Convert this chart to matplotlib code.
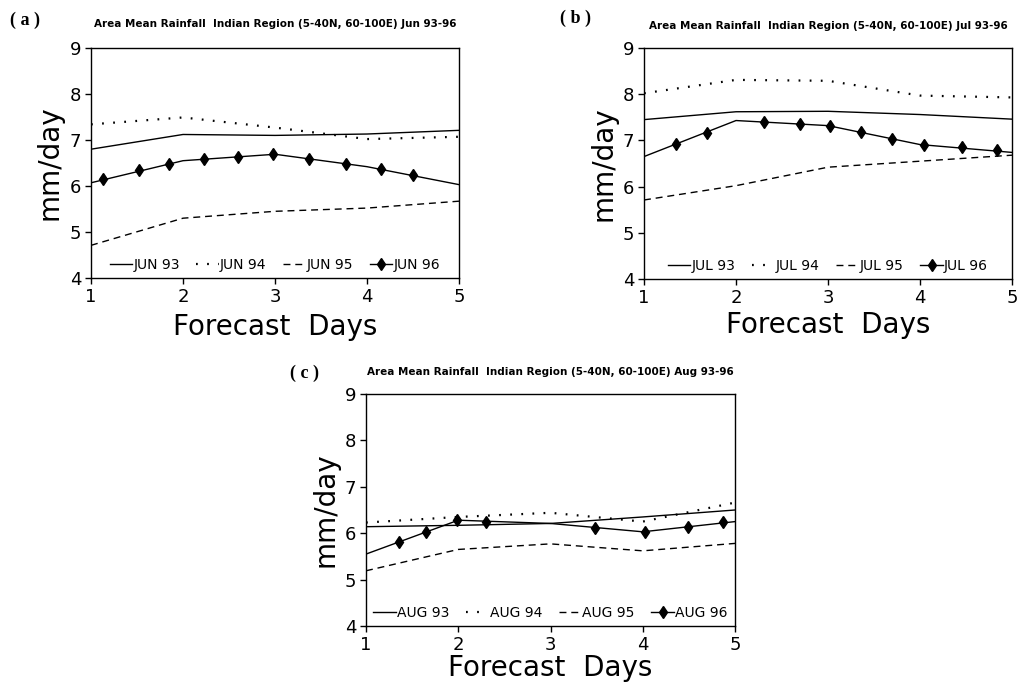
import matplotlib
matplotlib.use("Agg")
import matplotlib.pyplot as plt

# forecast day axis (daily values)
days = [1, 2, 3, 4, 5]

# June 1993-96, mm/day
jun93 = [6.80, 7.12, 7.10, 7.13, 7.21]
jun94 = [7.34, 7.49, 7.27, 7.02, 7.07]
jun95 = [4.71, 5.30, 5.45, 5.52, 5.67]
jun96 = [6.07, 6.55, 6.69, 6.42, 6.03]
jun96_mark_x = [1.13, 1.52, 1.85, 2.23, 2.60, 2.98, 3.37, 3.77, 4.15, 4.50]
jun96_mark_y = [6.15, 6.34, 6.48, 6.58, 6.64, 6.69, 6.58, 6.48, 6.36, 6.24]

# July 1993-96
jul93 = [7.45, 7.62, 7.63, 7.56, 7.46]
jul94 = [8.02, 8.31, 8.29, 7.97, 7.93]
jul95 = [5.71, 6.02, 6.42, 6.55, 6.68]
jul96 = [6.65, 7.43, 7.32, 6.91, 6.74]
jul96_mark_x = [1.35, 1.69, 2.30, 2.70, 3.02, 3.36, 3.70, 4.04, 4.46, 4.84]
jul96_mark_y = [6.92, 7.17, 7.39, 7.36, 7.31, 7.18, 7.04, 6.90, 6.85, 6.79]

# August 1993-96
aug93 = [6.14, 6.17, 6.21, 6.35, 6.50]
aug94 = [6.23, 6.35, 6.44, 6.25, 6.66]
aug95 = [5.19, 5.65, 5.77, 5.62, 5.78]
aug96 = [5.55, 6.28, 6.21, 6.03, 6.25]
aug96_mark_x = [1.36, 1.65, 1.99, 2.30, 3.48, 4.02, 4.49, 4.87]
aug96_mark_y = [5.81, 6.03, 6.28, 6.25, 6.12, 6.03, 6.14, 6.24]

W, H = 1019, 683

# panel: (letter, month, short, series, markers, axes box in px [l, t, r, b], xlabel offset, title offset, label pos)
panels = [
    ("a", "Jun", "JUN", [jun93, jun94, jun95, jun96], (jun96_mark_x, jun96_mark_y),
     (91, 48, 459, 278), 49, 24, (25, 20)),
    ("b", "Jul", "JUL", [jul93, jul94, jul95, jul96], (jul96_mark_x, jul96_mark_y),
     (644, 48, 1012, 279), 46, 22, (575, 18)),
    ("c", "Aug", "AUG", [aug93, aug94, aug95, aug96], (aug96_mark_x, aug96_mark_y),
     (366, 394, 735, 626), 42, 22, (305, 373)),
]

fig = plt.figure(figsize=(W / 100, H / 100), dpi=100)
fig.patch.set_facecolor("white")

for letter, month, short, series, marks, box, xoff, toff, lpos in panels:
    l, t, r, b = box
    ax = fig.add_axes([l / W, 1 - b / H, (r - l) / W, (b - t) / H])
    ah = b - t

    s93, s94, s95, s96 = series
    h1, = ax.plot(days, s93, color="black", lw=1.0)
    h2, = ax.plot(days, s94, color="black", lw=1.6, linestyle=(0, (0.8, 4.2)))
    h3, = ax.plot(days, s95, color="black", lw=1.0, linestyle=(0, (5, 3.5)))
    h4, = ax.plot(days, s96, color="black", lw=1.0)
    hm, = ax.plot(marks[0], marks[1], linestyle="none", marker="d",
                  color="black", markersize=6)

    ax.set_xlim(1, 5)
    ax.set_ylim(4, 9)
    ax.set_xticks(days)
    ax.set_yticks([4, 5, 6, 7, 8, 9])
    ax.tick_params(direction="out", length=4, width=1, labelsize=13, pad=3)
    for sp in ax.spines.values():
        sp.set_linewidth(1.0)

    ax.set_xlabel("Forecast  Days", fontsize=20)
    ax.xaxis.set_label_coords(0.5, -xoff / ah)
    ax.xaxis.label.set_va("center")
    ax.set_ylabel("mm/day", fontsize=20)
    ax.yaxis.set_label_coords(-41 / (r - l), 0.5)
    ax.yaxis.label.set_va("center")

    ax.text(0.5, 1 + toff / ah,
            "Area Mean Rainfall  Indian Region (5-40N, 60-100E) %s 93-96" % month,
            transform=ax.transAxes, ha="center", va="center",
            fontsize=7.5, fontweight="bold")

    ax.legend([h1, h2, h3, (h4, hm)],
              ["%s 93" % short, "%s 94" % short, "%s 95" % short, "%s 96" % short],
              loc="lower center", bbox_to_anchor=(0.5, -0.01), ncol=4,
              frameon=False, fontsize=10, handlelength=1.6, handletextpad=0.1,
              columnspacing=1.2, borderaxespad=0.2)

    fig.text(lpos[0] / W, 1 - lpos[1] / H, "( %s )" % letter,
             family="Liberation Serif", fontweight="bold", fontsize=13,
             ha="center", va="center")

fig.savefig("out.png", dpi=100, facecolor="white")
